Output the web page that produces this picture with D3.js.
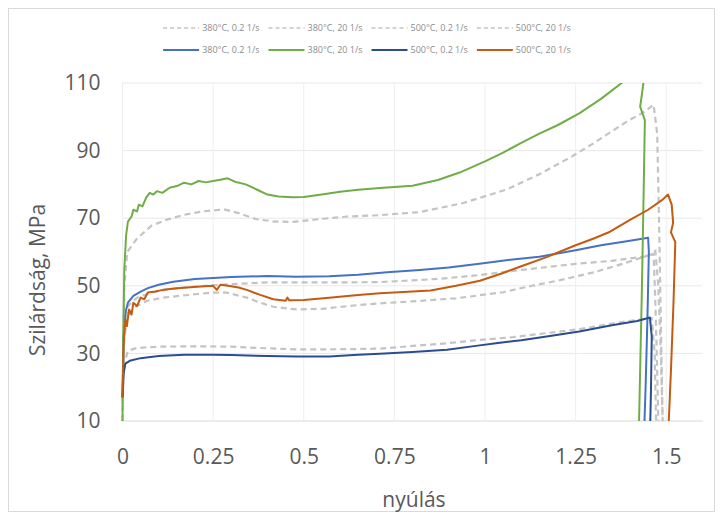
<!DOCTYPE html>
<html>
<head>
<meta charset="utf-8">
<script src="https://cdn.jsdelivr.net/npm/d3@7.9.0/dist/d3.min.js"></script>
<style>
  body { margin: 0; background: #fff; }
  text { font-family: "Open Sans", sans-serif; }
</style>
</head>
<body>
<svg id="chart" width="723" height="520"></svg>
<script>
// tick values
const xTicks = [0, 0.25, 0.5, 0.75, 1, 1.25, 1.5];
const yTicks = [10, 30, 50, 70, 90, 110];

const seriesNames = ["380°C, 0.2 1/s", "380°C, 20 1/s", "500°C, 0.2 1/s", "500°C, 20 1/s"];

// dashed curves (gray), [nyúlás, MPa]
const dash380slow = [[0,17],[0.005,38],[0.015,44],[0.04,46.5],[0.08,48],[0.13,49],[0.2,49.8],[0.3,50.5],[0.4,51],[0.5,51],[0.6,51],[0.71,51.1],[0.82,51.7],[0.9,52.3],[0.986,53.2],[1.07,54.3],[1.15,55.3],[1.26,56.6],[1.35,57.4],[1.45,58.8],[1.465,59.5],[1.47,45],[1.475,25],[1.478,10]];
const dash380fast = [[0,10],[0.005,50],[0.013,60],[0.04,64],[0.08,67.8],[0.12,69.5],[0.17,71],[0.22,72],[0.28,72.6],[0.32,71.5],[0.37,69.7],[0.42,69],[0.47,68.9],[0.55,69.8],[0.62,70.5],[0.71,70.9],[0.82,71.8],[0.94,74.5],[1.06,78.5],[1.15,83],[1.24,88.3],[1.3,92.2],[1.39,98.5],[1.44,101.5],[1.465,103.6],[1.475,95],[1.48,70],[1.485,40],[1.49,10]];
const dash500slow = [[0,17],[0.005,27],[0.015,30.8],[0.04,31.6],[0.1,32],[0.2,32.1],[0.3,32],[0.4,31.5],[0.48,31.2],[0.57,31.2],[0.65,31.3],[0.71,31.4],[0.8,32.2],[0.895,33],[0.985,34],[1.078,34.8],[1.17,36],[1.262,37.2],[1.36,39],[1.44,40.2],[1.46,40.5],[1.468,30],[1.472,10]];
const dash500fast = [[0,15],[0.005,34],[0.012,40],[0.03,43.5],[0.067,45.5],[0.112,46.5],[0.2,47.5],[0.25,48],[0.287,48],[0.343,46.5],[0.38,45],[0.416,43.8],[0.48,43],[0.55,43.2],[0.65,44.3],[0.71,44.8],[0.8,45.4],[0.92,46.3],[1.05,48.1],[1.12,49.8],[1.2,51.5],[1.3,54],[1.38,56.5],[1.45,59],[1.47,60.3],[1.478,50],[1.485,30],[1.49,10]];

// solid curves
const solid380slow = [[0,17],[0.003,35],[0.008,42],[0.015,45],[0.03,47],[0.05,48.3],[0.07,49.3],[0.1,50.3],[0.14,51.2],[0.2,52],[0.3,52.6],[0.4,52.9],[0.48,52.7],[0.57,52.8],[0.65,53.3],[0.73,54],[0.82,54.7],[0.9,55.4],[0.99,56.6],[1.07,57.7],[1.15,58.6],[1.25,60.5],[1.32,62],[1.4,63.3],[1.45,64.2],[1.452,60],[1.448,40],[1.443,20],[1.44,10]];
const solid380fast = [[0,10],[0.002,35],[0.005,55],[0.01,65],[0.015,69],[0.025,70.5],[0.03,72.5],[0.04,72],[0.045,74],[0.055,73.5],[0.065,76],[0.075,77.5],[0.085,77],[0.095,78],[0.11,77.5],[0.13,79],[0.15,79.5],[0.17,80.5],[0.19,80],[0.21,81],[0.23,80.6],[0.25,81],[0.27,81.4],[0.29,81.8],[0.31,80.8],[0.34,80],[0.37,78.5],[0.4,77],[0.43,76.4],[0.47,76.2],[0.5,76.3],[0.55,77],[0.6,77.8],[0.65,78.4],[0.71,78.9],[0.8,79.6],[0.87,81.3],[0.93,83.5],[1.0,86.8],[1.05,89.4],[1.1,92.3],[1.15,95],[1.2,97.5],[1.26,101],[1.32,105.3],[1.377,110],[1.41,113],[1.437,110],[1.432,106],[1.428,103],[1.441,99],[1.438,80],[1.433,50],[1.425,10]];
const solid500slow = [[0,17],[0.003,24],[0.008,27],[0.02,27.8],[0.05,28.6],[0.1,29.2],[0.17,29.6],[0.25,29.6],[0.3,29.5],[0.4,29.2],[0.48,29.1],[0.57,29.1],[0.65,29.6],[0.71,29.9],[0.8,30.4],[0.895,31.1],[0.98,32.3],[1.03,33],[1.1,33.9],[1.17,35],[1.26,36.5],[1.35,38.3],[1.42,39.6],[1.455,40.6],[1.46,35],[1.458,20],[1.456,10]];
const solid500fast = [[0,17],[0.003,33],[0.008,40],[0.012,38],[0.018,43],[0.025,41.5],[0.03,45],[0.04,44],[0.05,46.5],[0.06,46],[0.07,48],[0.09,48.3],[0.112,48.8],[0.15,49.3],[0.205,49.7],[0.25,50],[0.26,48.8],[0.27,50.3],[0.287,50.1],[0.32,49.5],[0.343,48.8],[0.38,47.3],[0.416,46],[0.45,45.6],[0.455,46.5],[0.46,45.7],[0.5,45.8],[0.57,46.5],[0.65,47.3],[0.71,47.8],[0.8,48.3],[0.85,48.6],[0.92,50],[0.986,51.5],[1.05,53.8],[1.1,55.8],[1.17,58.5],[1.25,62],[1.3,64],[1.345,66],[1.4,69.5],[1.45,72.5],[1.49,75.5],[1.505,77],[1.515,74],[1.519,68.7],[1.513,65.8],[1.525,62.9],[1.52,45],[1.513,25],[1.507,10]];

const dashedSeries = [dash380slow, dash380fast, dash500slow, dash500fast];
const solidSeries = [solid380slow, solid380fast, solid500slow, solid500fast];
const solidColors = ["#4472c4", "#70ad47", "#2a4d8f", "#c55a11"];
const dashColor = "#c4c4c4";

const svg = d3.select("#chart");

// chart frame
svg.append("rect")
    .attr("x", 8.5).attr("y", 8.5)
    .attr("width", 706).attr("height", 503)
    .attr("fill", "#fff")
    .attr("stroke", "#d9d9d9");

const x = d3.scaleLinear().domain([0, 1.6]).range([122.5, 702.5]);
const y = d3.scaleLinear().domain([10, 110]).range([421, 83]);

// gridlines
svg.append("g")
    .selectAll("line.h")
    .data(yTicks)
    .join("line")
    .attr("x1", x(0)).attr("x2", x(1.6))
    .attr("y1", d => y(d)).attr("y2", d => y(d))
    .attr("stroke", d => d === 10 ? "#d9d9d9" : "#e8e8e8");

svg.append("g")
    .selectAll("line.v")
    .data(xTicks)
    .join("line")
    .attr("x1", d => x(d)).attr("x2", d => x(d))
    .attr("y1", y(10)).attr("y2", y(110))
    .attr("stroke", "#eeeeee");

// axes (labels only)
const xAxis = svg.append("g")
    .attr("transform", `translate(0,${y(10)})`)
    .call(d3.axisBottom(x).tickValues(xTicks).tickSize(0).tickPadding(0).tickFormat(d => String(d)));
xAxis.select(".domain").remove();
xAxis.selectAll("text")
    .attr("y", 43).attr("dy", null)
    .attr("font-size", 21).attr("fill", "#595959")
    .style("font-family", "'Open Sans', sans-serif");

const yAxis = svg.append("g")
    .attr("transform", `translate(${x(0)},0)`)
    .call(d3.axisLeft(y).tickValues(yTicks).tickSize(0).tickPadding(22));
yAxis.select(".domain").remove();
yAxis.selectAll("text")
    .attr("font-size", 21).attr("fill", "#595959")
    .style("font-family", "'Open Sans', sans-serif");

// axis titles
svg.append("text")
    .attr("transform", "translate(45,280) rotate(-90)")
    .attr("text-anchor", "middle")
    .attr("font-size", 21)
    .attr("fill", "#595959")
    .text("Szilárdság, MPa");

svg.append("text")
    .attr("x", 414).attr("y", 507)
    .attr("text-anchor", "middle")
    .attr("font-size", 21)
    .attr("fill", "#595959")
    .text("nyúlás");

// curves
svg.append("clipPath").attr("id", "plot-clip")
    .append("rect")
    .attr("x", x(0) - 2).attr("y", y(110))
    .attr("width", x(1.6) - x(0) + 2).attr("height", y(10) - y(110));

const line = d3.line().x(d => x(d[0])).y(d => y(d[1]));
const plot = svg.append("g").attr("clip-path", "url(#plot-clip)");

dashedSeries.forEach(s => {
    plot.append("path")
        .attr("d", line(s))
        .attr("fill", "none")
        .attr("stroke", dashColor)
        .attr("stroke-width", 2.2)
        .attr("stroke-dasharray", "6,4");
});

solidSeries.forEach((s, i) => {
    plot.append("path")
        .attr("d", line(s))
        .attr("fill", "none")
        .attr("stroke", solidColors[i])
        .attr("stroke-width", 2)
        .attr("stroke-linejoin", "round");
});

// legend, two rows centred on chart
const legendRows = [
    { y: 28, dashed: true },
    { y: 50, dashed: false }
];
const chartCenter = 367;

legendRows.forEach(row => {
    const g = svg.append("g");
    let cursor = 0;
    seriesNames.forEach((name, i) => {
        const item = g.append("g").attr("transform", `translate(${cursor},0)`);
        item.append("line")
            .attr("x1", 0).attr("x2", 36)
            .attr("y1", 0).attr("y2", 0)
            .attr("stroke", row.dashed ? dashColor : solidColors[i])
            .attr("stroke-width", row.dashed ? 1.5 : 1.8)
            .attr("stroke-dasharray", row.dashed ? "4,3" : null);
        const t = item.append("text")
            .attr("x", 39).attr("y", 3)
            .attr("font-size", 9)
            .attr("fill", "#8c8c8c")
            .text(name);
        cursor += 39 + t.node().getComputedTextLength() + 9;
    });
    const width = cursor - 9;
    g.attr("transform", `translate(${chartCenter - width / 2},${row.y})`);
});
</script>
</body>
</html>
